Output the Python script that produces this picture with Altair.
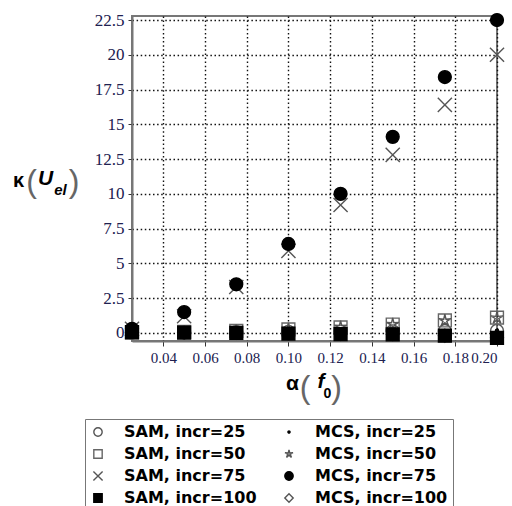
import altair as alt
import pandas as pd

# ---- data ----
alpha = [0.025, 0.05, 0.075, 0.10, 0.125, 0.15, 0.175, 0.20]
sam_25 = [0.02, 0.04, 0.06, 0.08, 0.10, 0.12, 0.14, 0.16]
mcs_25 = [0.02, 0.04, 0.06, 0.08, 0.10, 0.12, 0.14, 0.16]
sam_50 = [0.03, 0.08, 0.15, 0.25, 0.40, 0.60, 0.90, 1.10]
mcs_50 = [0.03, 0.08, 0.16, 0.26, 0.42, 0.62, 0.88, 1.08]
sam_75 = [0.30, 1.20, 3.30, 5.90, 9.20, 12.8, 16.4, 20.0]
mcs_75 = [0.30, 1.50, 3.50, 6.40, 10.0, 14.1, 18.4, 22.5]
sam_100 = [0.05, 0.02, 0.00, -0.05, -0.08, -0.10, -0.20, -0.35]
mcs_100 = [0.05, 0.02, 0.00, -0.05, -0.08, -0.10, -0.20, -0.35]

# legend order (filled column by column)
series_names = ["SAM, incr=25", "SAM, incr=50", "SAM, incr=75", "SAM, incr=100",
                "MCS, incr=25", "MCS, incr=50", "MCS, incr=75", "MCS, incr=100"]
series_by_name = {
    "SAM, incr=25": sam_25, "SAM, incr=50": sam_50, "SAM, incr=75": sam_75,
    "SAM, incr=100": sam_100, "MCS, incr=25": mcs_25, "MCS, incr=50": mcs_50,
    "MCS, incr=75": mcs_75, "MCS, incr=100": mcs_100,
}
# drawing order (later is on top)
draw_order = ["SAM, incr=25", "MCS, incr=25", "SAM, incr=50", "MCS, incr=50",
              "MCS, incr=100", "SAM, incr=75", "MCS, incr=75", "SAM, incr=100"]

x_ticks = [0.04, 0.06, 0.08, 0.10, 0.12, 0.14, 0.16, 0.18, 0.20]
y_ticks = [0, 2.5, 5, 7.5, 10, 12.5, 15, 17.5, 20, 22.5]

rows = []
for name in draw_order:
    for a, v in zip(alpha, series_by_name[name]):
        rows.append({"alpha": a, "kappa": v, "series": name})
df = pd.DataFrame(rows)

dot = "M-0.25,0A0.25,0.25,0,1,1,0.25,0A0.25,0.25,0,1,1,-0.25,0Z"
xmark = "M-1.1,-1.1L1.1,1.1M-1.1,1.1L1.1,-1.1"
star = ("M0,-1L0.176,-0.243L0.951,-0.309L0.285,0.093L0.588,0.809L0,0.3"
        "L-0.588,0.809L-0.285,0.093L-0.951,-0.309L-0.176,-0.243Z")
#          SAM25     SAM50     SAM75    SAM100    MCS25  MCS50  MCS75     MCS100
shapes = ["circle", "square", xmark, "square", dot, star, "circle", "diamond"]
fills = ["transparent", "transparent", "transparent", "black",
         "black", "transparent", "black", "transparent"]
strokes = ["#555555", "#666666", "#555555", "black",
           "black", "#555555", "black", "#555555"]

label_color = "#202050"

legend = alt.Legend(
    orient="none", legendX=-47, legendY=403, columns=2,
    strokeColor="#777777", padding=5, fillColor="white",
    labelFont="DejaVu Sans", labelFontWeight="bold", labelFontSize=16,
    labelColor="black", labelOffset=18, labelLimit=300,
    symbolSize=70, symbolStrokeWidth=1.4, symbolOpacity=1,
    rowPadding=6, columnPadding=24, title=None,
)

points = alt.Chart(df).mark_point(
    filled=True, size=165, strokeWidth=1.4, opacity=1, fillOpacity=1
).encode(
    x=alt.X("alpha:Q",
            scale=alt.Scale(domain=[0.025, 0.2], nice=False, zero=False),
            axis=alt.Axis(values=x_ticks, format=".2f", title=None,
                          labelFont="Liberation Serif", labelFontSize=15,
                          labelColor=label_color, labelPadding=4,
                          tickSize=5, tickColor="#333333",
                          domainColor="#777777", domainWidth=2,
                          grid=True, gridDash=[1.5, 2.6], gridColor="#111111",
                          gridWidth=1.4)),
    y=alt.Y("kappa:Q",
            scale=alt.Scale(domain=[-0.58, 22.79], nice=False, zero=False),
            axis=alt.Axis(values=y_ticks, labelExpr="'' + datum.value", title=None,
                          labelFont="Liberation Serif", labelFontSize=17,
                          labelColor=label_color, labelPadding=4,
                          tickSize=4, tickColor="#333333",
                          domainColor="#777777", domainWidth=2,
                          grid=True, gridDash=[1.5, 2.6], gridColor="#111111",
                          gridWidth=1.4)),
    shape=alt.Shape("series:N", legend=legend,
                    scale=alt.Scale(domain=series_names, range=shapes)),
    fill=alt.Fill("series:N", legend=legend,
                  scale=alt.Scale(domain=series_names, range=fills)),
    stroke=alt.Stroke("series:N", legend=legend,
                      scale=alt.Scale(domain=series_names, range=strokes)),
)

one = pd.DataFrame({"k": [0]})


def txt(s, x, y, size, weight="bold", style="normal", baseline="alphabetic",
        font="Liberation Sans", color="black"):
    return alt.Chart(one).mark_text(
        text=s, fontSize=size, fontWeight=weight, fontStyle=style,
        baseline=baseline, align="center", font=font, color=color
    ).encode(x=alt.value(x), y=alt.value(y))


paren_color = "#666666"
titles = [
    # y axis title  kappa(U_el)
    txt("κ", -113.5, 171, 20),
    txt("(", -100.5, 176, 32, weight="normal", color=paren_color),
    txt("U", -86.5, 169, 21, style="italic"),
    txt("el", -71.5, 179, 15, style="italic"),
    txt(")", -58, 176, 32, weight="normal", color=paren_color),
    # x axis title  alpha(f_0)
    txt("α", 160.5, 374, 21),
    txt("(", 173, 382, 32, weight="normal", color=paren_color),
    txt("f", 189, 372, 21, style="italic"),
    txt("0", 195.5, 382, 14),
    txt(")", 204.5, 382, 32, weight="normal", color=paren_color),
]

chart = alt.layer(points, *titles).properties(
    width=365, height=325,
    autosize=alt.AutoSizeParams(type="none"),
    padding={"left": 132, "top": 16, "right": 15, "bottom": 165},
    background="white",
).configure_view(
    stroke="#777777", strokeWidth=2
)

chart.save("out.html", embed_options={"renderer": "svg", "actions": False})
